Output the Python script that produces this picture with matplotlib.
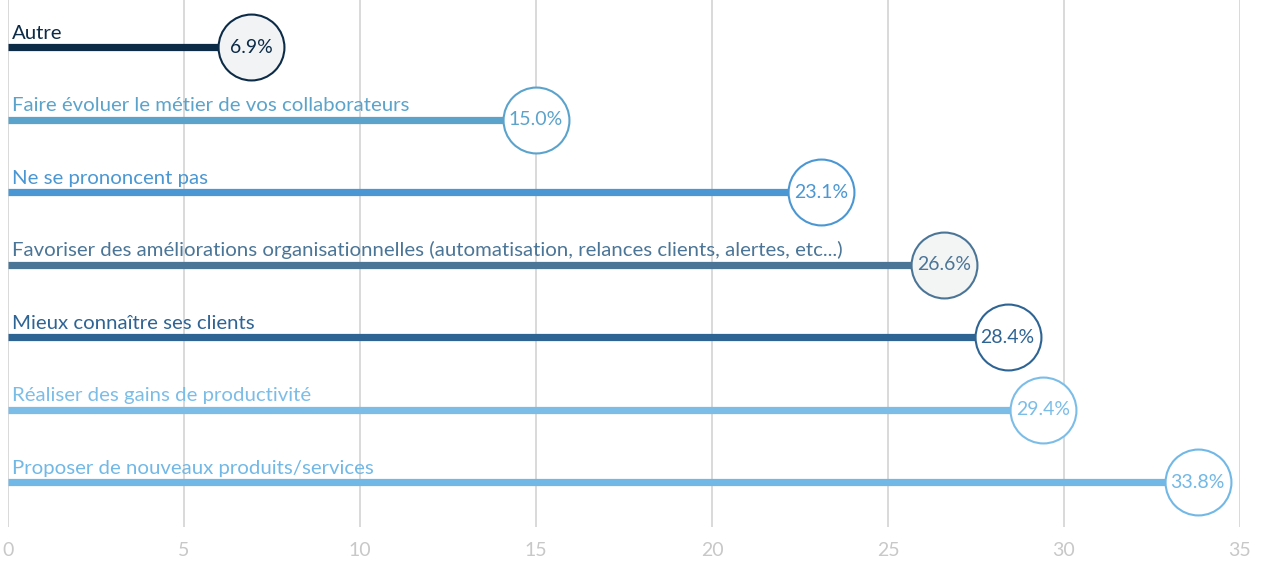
import matplotlib.pyplot as plt

plt.rcParams['font.family'] = ['Lato', 'DejaVu Sans']

# Données
labels = [
    "Autre",
    "Faire évoluer le métier de vos collaborateurs",
    "Ne se prononcent pas",
    "Favoriser des améliorations organisationnelles (automatisation, relances clients, alertes, etc...)",
    "Mieux connaître ses clients",
    "Réaliser des gains de productivité",
    "Proposer de nouveaux produits/services",
]
values = [6.9, 15.0, 23.1, 26.6, 28.4, 29.4, 33.8]
colors = ["#0c2b47", "#5ba3cb", "#4a97d3", "#4b7597", "#2e6494", "#7cbde8", "#72b8e6"]
fills = ["#f2f3f5", "white", "white", "#f3f4f4", "white", "white", "white"]
ticks = [0, 5, 10, 15, 20, 25, 30, 35]

fig = plt.figure(figsize=(12.64, 5.64), dpi=100)
ax = fig.add_axes([8 / 1264, 37 / 564, 1232 / 1264, 527 / 564])

for i, (lab, v, c, f) in enumerate(zip(labels, values, colors, fills)):
    ax.plot([0, v], [i, i], color=c, lw=5.2, solid_capstyle='butt', zorder=2)
    ax.scatter([v], [i], s=2250, facecolor=f, edgecolor=c, linewidth=1.5, zorder=3)
    ax.text(v, i, f"{v:.1f}%", ha='center', va='center', fontsize=14, color=c, zorder=4)
    ax.annotate(lab, (0, i), xytext=(3, 4), textcoords='offset points',
                ha='left', va='bottom', fontsize=14.7, color=c)

ax.set_xlim(0, 35)
ax.set_ylim(6.62, -0.65)
ax.set_xticks(ticks)
ax.set_yticks([])
ax.grid(axis='x', color='#d3d3d3', lw=1.2, zorder=0)
ax.set_axisbelow(True)
for s in ax.spines.values():
    s.set_visible(False)
ax.tick_params(axis='x', length=0, pad=11, labelsize=14, labelcolor='#c8c8c8')
for a in ax.get_children():
    a.set_clip_on(False)

fig.savefig("out.png", dpi=100)
